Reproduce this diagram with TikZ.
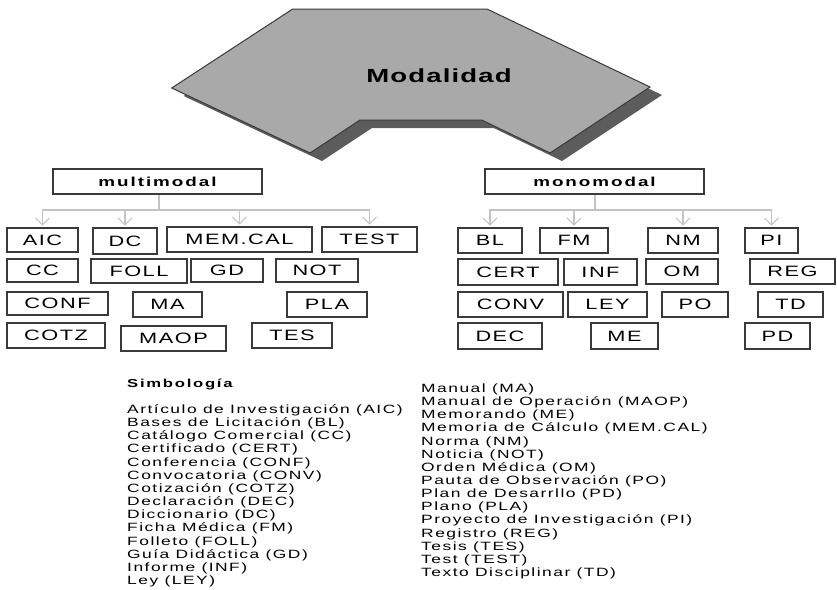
\documentclass[tikz,border=0pt]{standalone}
\usepackage{fontspec}
\usetikzlibrary{arrows.meta}
\newfontfamily\lf[FakeStretch=1.45,LetterSpace=10]{Liberation Sans}
\newfontfamily\lfl[FakeStretch=1.45,LetterSpace=12.5]{Liberation Sans}
\newfontfamily\lfh[FakeStretch=1.45,LetterSpace=15]{Liberation Sans}
\newfontfamily\lfm[FakeStretch=1.45,LetterSpace=6]{Liberation Sans}
\definecolor{bordc}{HTML}{3A3A3A}
\definecolor{connc}{HTML}{C4C4C4}
\definecolor{shapec}{HTML}{A9A9A9}
\definecolor{shadc}{HTML}{5C5C5C}
\begin{document}
\begin{tikzpicture}[x=1pt,y=-1pt,
 bx/.style={draw=bordc, line width=1.6pt, fill=white, inner sep=0pt, minimum height=25pt, font=\lf\fontsize{15}{15}\selectfont},
 hd/.style={draw=bordc, line width=1.6pt, fill=white, inner sep=0pt, minimum height=25pt, font=\lfh\bfseries\fontsize{13}{13}\selectfont},
 conn/.style={draw=connc, line width=1.2pt},
 arr/.style={conn, shorten >=1.5pt, -{Straight Barb[length=7pt,width=14pt,line width=1.1pt]}},
 leg/.style={font=\lfl\fontsize{12}{13.15}\selectfont, align=left, inner sep=0pt, anchor=north west}]
\useasboundingbox (0,0) rectangle (837,589);
% top shape
\fill[shadc] (304.7,17) -- (499,17) -- (662,95) -- (562,161) -- (493.7,128) -- (372,128) -- (322,161) -- (183.7,96) -- cycle;
\draw[draw=bordc, line width=1pt, fill=shapec] (292.7,9) -- (487,9) -- (650,87) -- (550,153) -- (481.7,120) -- (360,120) -- (310,153) -- (171.7,88) -- cycle;
\node[font=\lfm\bfseries\fontsize{19}{19}\selectfont] (modal) at (439,76) {Modalidad};
% heads
\node[hd, minimum width=209pt] (mm) at (157.5,181.5) {multimodal};
\node[hd, minimum width=219pt] (mo) at (594.5,181.5) {monomodal};
% multimodal children
\node[bx, minimum width=71pt, minimum height=24pt] (aic) at (42.5,240) {AIC};
\node[bx, minimum width=64pt, minimum height=26pt] (dc) at (125,241) {DC};
\node[bx, minimum width=145pt] (memcal) at (239.5,239.5) {MEM.CAL};
\node[bx, minimum width=95pt] (test) at (369.5,239.5) {TEST};
\node[bx, minimum width=71pt, minimum height=23pt] (cc) at (42.5,270.5) {CC};
\node[bx, minimum width=96pt, minimum height=24pt] (foll) at (139,271) {FOLL};
\node[bx, minimum width=72pt, minimum height=23pt] (gd) at (227,270.5) {GD};
\node[bx, minimum width=82pt, minimum height=23pt] (not) at (317,270.5) {NOT};
\node[bx, minimum width=101pt, minimum height=23pt] (conf) at (57.5,303.5) {CONF};
\node[bx, minimum width=69pt] (ma) at (167.5,304.5) {MA};
\node[bx, minimum width=80pt] (pla) at (327,304.5) {PLA};
\node[bx, minimum width=98pt] (cotz) at (56,335.5) {COTZ};
\node[bx, minimum width=105pt] (maop) at (173.5,338.5) {MAOP};
\node[bx, minimum width=80pt] (tes) at (292,335.5) {TES};
% monomodal children
\node[bx, minimum width=64pt] (bl) at (490,240.5) {BL};
\node[bx, minimum width=68pt] (fm) at (574,240.5) {FM};
\node[bx, minimum width=70pt] (nm) at (683,240.5) {NM};
\node[bx, minimum width=53pt] (pi) at (771.5,240.5) {PI};
\node[bx, minimum width=100pt, minimum height=26pt] (cert) at (508,272) {CERT};
\node[bx, minimum width=73pt, minimum height=26pt] (inf) at (600.5,272) {INF};
\node[bx, minimum width=72pt] (om) at (682,271.5) {OM};
\node[bx, minimum width=85pt] (reg) at (792.5,271.5) {REG};
\node[bx, minimum width=105pt] (conv) at (510.5,304.5) {CONV};
\node[bx, minimum width=79pt] (ley) at (607.5,304.5) {LEY};
\node[bx, minimum width=66pt] (po) at (695,304.5) {PO};
\node[bx, minimum width=65pt] (td) at (790.5,304.5) {TD};
\node[bx, minimum width=84pt, minimum height=26pt] (dec) at (500,336) {DEC};
\node[bx, minimum width=67pt, minimum height=26pt] (me) at (624.5,336) {ME};
\node[bx, minimum width=65pt, minimum height=26pt] (pd) at (777.5,336) {PD};
% connectors
\coordinate (mbus) at (159,210);
\coordinate (obus) at (595,210);
\draw[conn] (mm.south -| mbus) -- (mbus);
\draw[conn] (mo.south -| obus) -- (obus);
\foreach \n in {aic,dc,memcal,test} \draw[arr] (mbus) -| (\n.north);
\foreach \n in {bl,fm,nm,pi} \draw[arr] (obus) -| (\n.north);
% legend
\node[font=\lfh\bfseries\fontsize{11.5}{11.5}\selectfont, anchor=west, inner sep=0pt] (simb) at (127,384) {Simbología};
\node[leg] (legl) at (127,404.5) {Artículo de Investigación (AIC)\\ Bases de Licitación (BL)\\ Catálogo Comercial (CC)\\ Certificado (CERT)\\ Conferencia (CONF)\\ Convocatoria (CONV)\\ Cotización (COTZ)\\ Declaración (DEC)\\ Diccionario (DC)\\ Ficha Médica (FM)\\ Folleto (FOLL)\\ Guía Didáctica (GD)\\ Informe (INF)\\ Ley (LEY)};
\node[leg] (legr) at (421,383.5) {Manual (MA)\\ Manual de Operación (MAOP)\\ Memorando (ME)\\ Memoria de Cálculo (MEM.CAL)\\ Norma (NM)\\ Noticia (NOT)\\ Orden Médica (OM)\\ Pauta de Observación (PO)\\ Plan de Desarrllo (PD)\\ Plano (PLA)\\ Proyecto de Investigación (PI)\\ Registro (REG)\\ Tesis (TES)\\ Test (TEST)\\ Texto Disciplinar (TD)};
\end{tikzpicture}
\end{document}
